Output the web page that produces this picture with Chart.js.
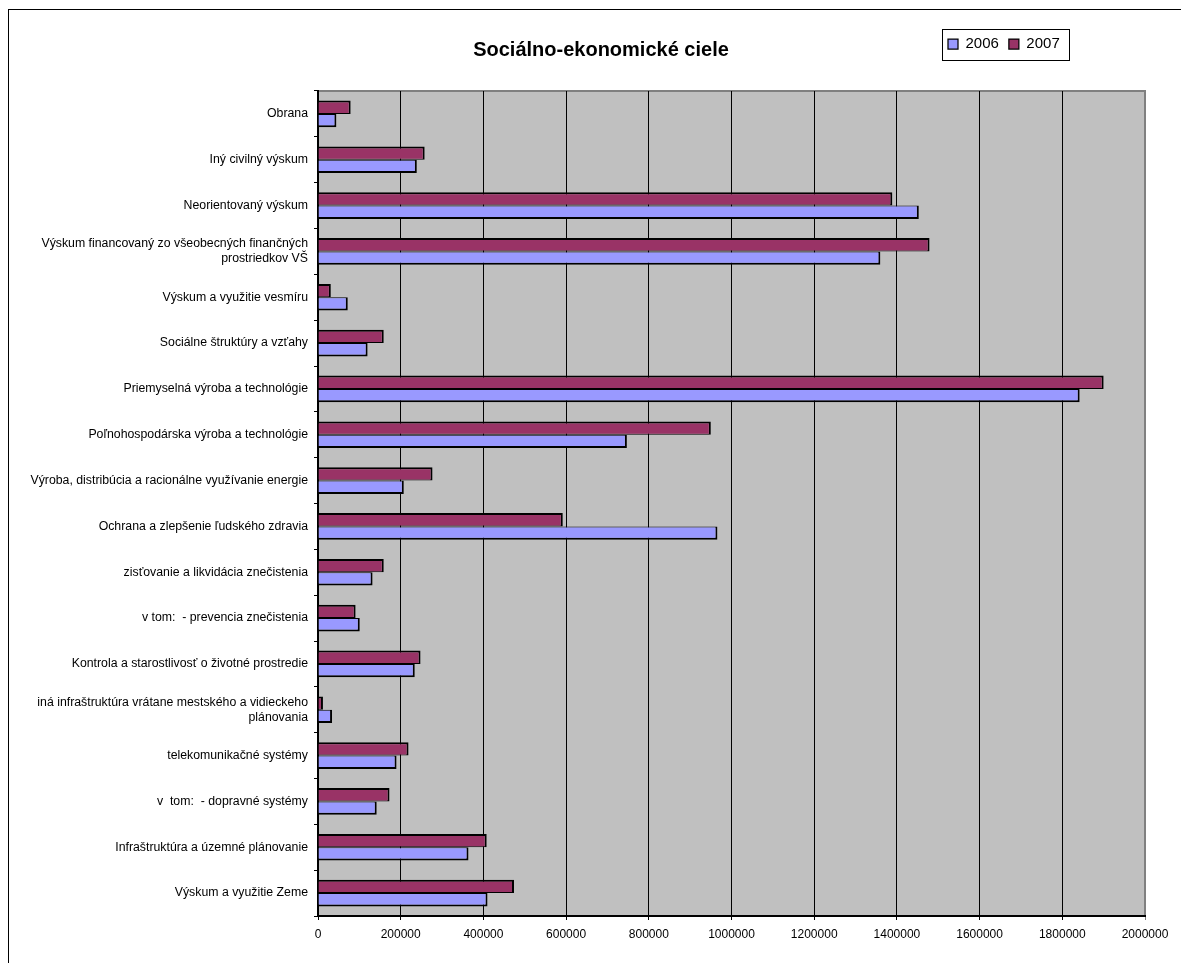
<!DOCTYPE html>
<html>
<head>
<meta charset="utf-8">
<title>Sociálno-ekonomické ciele</title>
<script src="https://cdn.jsdelivr.net/npm/chart.js"></script>
<style>
  body { margin: 0; background: #fff; }
</style>
</head>
<body>
<canvas id="cieleChart" width="1181" height="963"></canvas>
<script>
// categories, top to bottom as in the sheet
const categories = [
  'Obrana',
  'Iný civilný výskum',
  'Neorientovaný výskum',
  ['Výskum financovaný zo všeobecných finančných', 'prostriedkov VŠ'],
  'Výskum a využitie vesmíru',
  'Sociálne štruktúry a vzťahy',
  'Priemyselná výroba a technológie',
  'Poľnohospodárska výroba a technológie',
  'Výroba, distribúcia a racionálne využívanie energie',
  'Ochrana a zlepšenie ľudského zdravia',
  'zisťovanie a likvidácia znečistenia',
  'v tom:  - prevencia znečistenia',
  'Kontrola a starostlivosť o životné prostredie',
  ['iná infraštruktúra vrátane mestského a vidieckeho', 'plánovania'],
  'telekomunikačné systémy',
  'v  tom:  - dopravné systémy',
  'Infraštruktúra a územné plánovanie',
  'Výskum a využitie Zeme'
];

const values2006 = [44500, 239000, 1453000, 1360000, 72000, 120000, 1842000, 747000, 207500, 966000,
                    132000, 101000, 234000, 34000, 190000, 142000, 364000, 410000];
const values2007 = [79000, 258000, 1389000, 1479000, 31000, 159000, 1900000, 950000, 277000, 592000,
                    159000, 91000, 248000, 12000, 219000, 173000, 408000, 474000];

const xTicks = [0, 200000, 400000, 600000, 800000, 1000000, 1200000, 1400000, 1600000, 1800000, 2000000];

Chart.defaults.font.family = '"Liberation Sans", Arial, sans-serif';
Chart.defaults.color = '#000';

// grey plot area, outer frame, title/legend placement
const frame = {
  id: 'frame',
  afterLayout(chart) {
    const t = chart.titleBlock;
    t.left = 0; t.right = 1202;
    const l = chart.legend;
    l.left = 938; l.right = 1120; l.top = 26.5; l.bottom = 66;
    l.width = l.right - l.left; l.height = l.bottom - l.top;
  },
  beforeDraw(chart) {
    const {ctx, chartArea: a} = chart;
    ctx.save();
    ctx.fillStyle = '#fff';
    ctx.fillRect(0, 0, chart.width, chart.height);
    ctx.strokeStyle = '#000';
    ctx.lineWidth = 1;
    ctx.strokeRect(8.5, 9.5, chart.width, chart.height);
    ctx.fillStyle = '#c0c0c0';
    ctx.fillRect(a.left, a.top, a.right - a.left, a.bottom - a.top);
    ctx.strokeStyle = '#808080';
    ctx.lineWidth = 2;
    ctx.strokeRect(a.left, a.top, a.right - a.left, a.bottom - a.top);
    ctx.restore();
  },
  afterDraw(chart) {
    const ctx = chart.ctx;
    ctx.save();
    ctx.strokeStyle = '#000';
    ctx.lineWidth = 1;
    ctx.strokeRect(942.5, 29.5, 127, 31);
    ctx.restore();
  }
};

const ctx = document.getElementById('cieleChart').getContext('2d');
const cieleChart = new Chart(ctx, {
  type: 'bar',
  data: {
    labels: categories,
    datasets: [{
      label: '2007',
      data: values2007,
      backgroundColor: '#993366',
      borderColor: '#000',
      borderWidth: {top: 2, right: 2, bottom: 1, left: 0}
    }, {
      label: '2006',
      data: values2006,
      backgroundColor: '#9999ff',
      borderColor: '#000',
      borderWidth: {top: 1, right: 2, bottom: 2, left: 0}
    }]
  },
  options: {
    indexAxis: 'y',
    responsive: false,
    animation: false,
    categoryPercentage: 0.583,
    barPercentage: 1,
    layout: { padding: {left: 0, right: 36, top: 0, bottom: 0} },
    plugins: {
      title: {
        display: true,
        text: 'Sociálno-ekonomické ciele',
        color: '#000',
        font: {size: 20, weight: 'bold', lineHeight: 1.2},
        padding: {top: 38, bottom: -6}
      },
      legend: {
        position: 'top',
        align: 'start',
        reverse: true,
        labels: {
          boxWidth: 10,
          boxHeight: 10,
          padding: 10,
          color: '#000',
          font: {size: 15}
        }
      },
      tooltip: { enabled: false }
    },
    scales: {
      x: {
        min: 0,
        max: 2000000,
        afterBuildTicks: s => { s.ticks = xTicks.map(v => ({value: v})); },
        afterFit: s => { s.height = 47; },
        grid: {
          color: c => (c.tick && c.tick.value === 2000000) ? '#808080' : '#000',
          lineWidth: 1,
          tickLength: 4
        },
        border: { color: '#000', width: 2 },
        ticks: {
          color: '#000',
          font: {size: 12},
          padding: 7,
          maxRotation: 0,
          autoSkip: false,
          callback: v => String(v)
        }
      },
      y: {
        afterFit: s => { s.width = 318; },
        grid: { offset: true, drawOnChartArea: false, color: '#000', tickLength: 4 },
        border: { color: '#000', width: 2 },
        ticks: {
          color: '#000',
          font: {size: 12.3},
          padding: 6,
          autoSkip: false
        }
      }
    }
  },
  plugins: [frame]
});
</script>
</body>
</html>
